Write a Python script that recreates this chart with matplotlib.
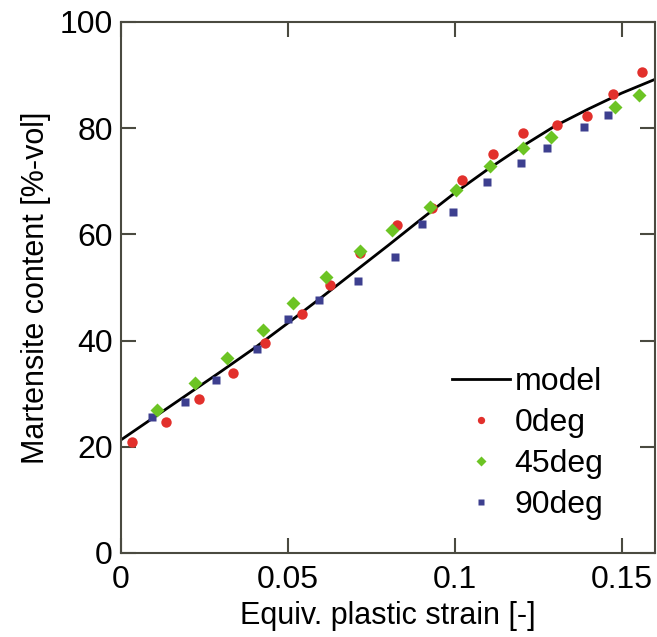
import matplotlib
matplotlib.use("Agg")
import matplotlib.pyplot as plt

plt.rcParams['font.family'] = ['Liberation Sans', 'DejaVu Sans']

# Model curve
model_strain = [0.0, 0.01, 0.02, 0.03, 0.04, 0.05, 0.06, 0.07, 0.08,
                0.09, 0.10, 0.11, 0.12, 0.13, 0.14, 0.15, 0.16]
model_content = [21.3, 25.6, 29.9, 34.2, 38.6, 43.3, 48.1, 53.0, 57.9,
                 62.9, 67.8, 72.3, 76.5, 80.4, 83.6, 86.6, 89.2]

# Measurements, 0 deg to rolling direction
strain_0 = [0.0033, 0.0135, 0.0233, 0.0335, 0.0431, 0.0542, 0.0626, 0.0716,
            0.0826, 0.0931, 0.1021, 0.1114, 0.1204, 0.1305, 0.1395, 0.1473, 0.1560]
content_0 = [20.9, 24.7, 29.0, 33.9, 39.5, 45.0, 50.5, 56.5,
             61.8, 65.0, 70.2, 75.1, 79.1, 80.6, 82.3, 86.4, 90.6]

# Measurements, 45 deg
strain_45 = [0.0108, 0.0222, 0.0317, 0.0425, 0.0515, 0.0614, 0.0716, 0.0811,
             0.0925, 0.1003, 0.1105, 0.1204, 0.1287, 0.1479, 0.1551]
content_45 = [26.9, 32.0, 36.7, 42.0, 47.0, 52.0, 56.8, 60.8,
              65.2, 68.4, 72.9, 76.2, 78.3, 84.0, 86.2]

# Measurements, 90 deg
strain_90 = [0.0093, 0.0192, 0.0284, 0.0407, 0.0500, 0.0593, 0.0710, 0.0820,
             0.0901, 0.0994, 0.1096, 0.1198, 0.1275, 0.1386, 0.1458]
content_90 = [25.6, 28.4, 32.6, 38.4, 44.1, 47.6, 51.2, 55.8,
              61.9, 64.2, 69.8, 73.5, 76.2, 80.3, 82.5]

x_ticks = [0, 0.05, 0.1, 0.15]
x_tick_labels = ['0', '0.05', '0.1', '0.15']
y_ticks = [0, 20, 40, 60, 80, 100]

fig = plt.figure(figsize=(6.57, 6.37), dpi=100)
ax = fig.add_axes([0.1842, 0.1319, 0.8128, 0.8336])

ax.plot(model_strain, model_content, color='black', lw=2.0, label='model', zorder=2)
ax.plot(strain_0, content_0, linestyle='none', marker='o', ms=7.5,
        color='#e2302c', mec='none', label='0deg', zorder=3)
ax.plot(strain_45, content_45, linestyle='none', marker='D', ms=7.5,
        color='#6cc424', mec='none', label='45deg', zorder=4)
ax.plot(strain_90, content_90, linestyle='none', marker='s', ms=5.5,
        color='#3d3f8f', mec='none', label='90deg', zorder=3)

ax.set_xlim(0, 0.16)
ax.set_ylim(0, 100)
ax.set_xticks(x_ticks)
ax.set_xticklabels(x_tick_labels)
ax.set_yticks(y_ticks)

for s in ax.spines.values():
    s.set_color('#4a4a40')
    s.set_linewidth(1.5)

ax.tick_params(direction='in', length=11, width=1.5, color='#4a4a40',
               top=True, right=True, labelsize=23)
ax.tick_params(axis='x', pad=9)
ax.tick_params(axis='y', pad=6)

ax.set_xlabel('Equiv. plastic strain [-]', fontsize=22, labelpad=4)
ax.set_ylabel('Martensite content [%-vol]', fontsize=22, labelpad=6)

leg = ax.legend(loc='lower left', bbox_to_anchor=(0.62, 0.062), frameon=False,
                fontsize=23, handlelength=1.8, handletextpad=0.15,
                labelspacing=0.34, markerscale=0.7, borderpad=0,
                borderaxespad=0)

fig.savefig('out.png', dpi=100)
